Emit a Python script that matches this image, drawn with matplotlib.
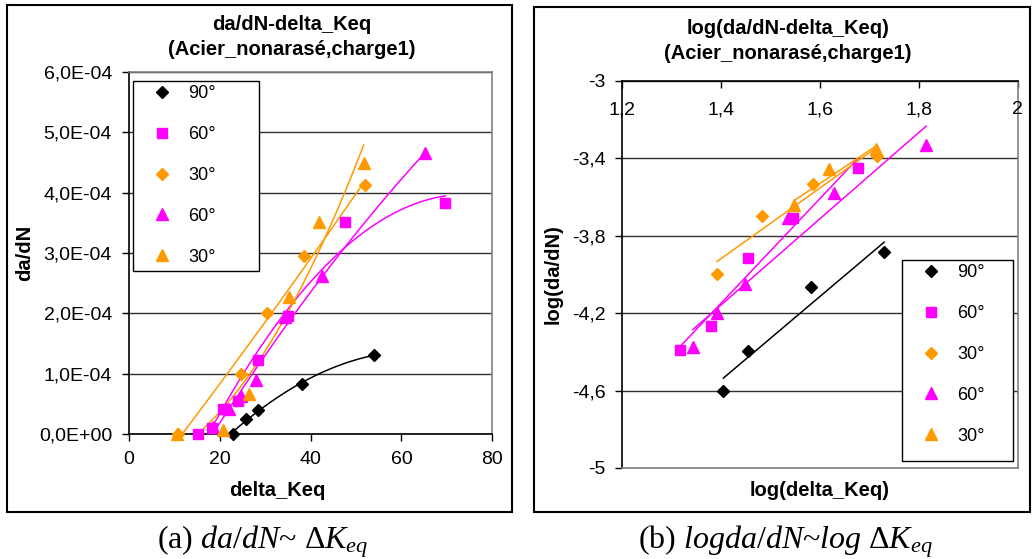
import numpy as np
from matplotlib import pyplot as plt
from matplotlib.patches import Rectangle
from matplotlib.ticker import FuncFormatter, MultipleLocator

plt.rcParams['font.family'] = ['Liberation Sans', 'DejaVu Sans']
plt.rcParams['mathtext.fontset'] = 'custom'
plt.rcParams['mathtext.rm'] = 'Liberation Serif'
plt.rcParams['mathtext.it'] = 'Liberation Serif:italic'

# ---- data, panel (a): da/dN vs delta_Keq
k90 = [22.9, 25.7, 28.5, 38.1, 54.0]
v90 = [0.0, 0.245e-4, 0.40e-4, 0.83e-4, 1.31e-4]
k60s = [15.3, 18.3, 20.8, 24.0, 28.5, 35.1, 47.5, 69.7]
v60s = [0.0, 0.10e-4, 0.41e-4, 0.54e-4, 1.22e-4, 1.95e-4, 3.52e-4, 3.83e-4]
k30d = [10.9, 24.7, 30.5, 38.5, 52.0]
v30d = [0.0, 1.0e-4, 2.0e-4, 2.95e-4, 4.12e-4]
k60t = [18.6, 22.0, 24.7, 28.1, 34.3, 42.6, 65.3]
v60t = [0.12e-4, 0.42e-4, 0.63e-4, 0.89e-4, 1.94e-4, 2.62e-4, 4.66e-4]
k30t = [10.7, 20.8, 26.5, 35.3, 41.9, 51.7]
v30t = [0.0, 0.07e-4, 0.67e-4, 2.27e-4, 3.52e-4, 4.50e-4]

# ---- data, panel (b): log values
lk90 = [1.405, 1.455, 1.582, 1.730]
lv90 = [-4.602, -4.396, -4.067, -3.886]
lk60s = [1.318, 1.380, 1.455, 1.545, 1.677]
lv60s = [-4.390, -4.267, -3.914, -3.711, -3.453]
lk30d = [1.392, 1.484, 1.586, 1.716]
lv30d = [-4.000, -3.699, -3.535, -3.389]
lk60t = [1.343, 1.392, 1.449, 1.535, 1.629, 1.815]
lv60t = [-4.377, -4.201, -4.050, -3.711, -3.582, -3.332]
lk30t = [1.548, 1.619, 1.714]
lv30t = [-3.642, -3.458, -3.354]

labels = ['90°', '60°', '30°', '60°', '30°']
colors = ['black', '#FF00FF', '#FF9900', '#FF00FF', '#FF9900']
markers = ['D', 's', 'D', '^', '^']
msizes = [6.5, 7.5, 6.5, 8.5, 8.5]

W, H = 1032, 559
fig = plt.figure(figsize=(W / 100, H / 100), dpi=100)


def fx(px):
    return px / W


def fy(py):
    return 1 - py / H


def frame(x0, y0, x1, y1):
    fig.add_artist(Rectangle((fx(x0), fy(y1)), fx(x1 - x0), (y1 - y0) / H,
                             transform=fig.transFigure, fill=False,
                             edgecolor='black', lw=1.5))


def comma(fmt):
    return FuncFormatter(lambda v, p: (fmt % v).replace('.', ','))


def legend_box(ax, handles, x0, y0, x1, y1):
    ax.add_patch(Rectangle((fx(x0), fy(y1)), fx(x1 - x0), (y1 - y0) / H,
                           transform=fig.transFigure, facecolor='white',
                           edgecolor='black', lw=1, zorder=4, clip_on=False))
    leg = ax.legend(handles, labels, loc='upper left', frameon=False,
                    bbox_to_anchor=(fx(x0 + 10), fy(y0 - 3)),
                    bbox_transform=fig.transFigure, borderaxespad=0,
                    handlelength=1.3, handletextpad=0.8, labelspacing=1.32,
                    fontsize=13)
    leg.set_zorder(5)


def style(ax, gray_sides):
    for s in ax.spines.values():
        s.set_color('black')
        s.set_linewidth(1.2)
    for s in gray_sides:
        ax.spines[s].set_color('#808080')
    ax.yaxis.grid(True, color='#303030', lw=1)
    ax.set_axisbelow(True)
    ax.tick_params(labelsize=14, length=5, width=1)


frame(7, 5, 512, 512)
frame(534, 7, 1030, 512)

# ---------------- panel (a)
ax1 = fig.add_axes([fx(128.7), fy(434), fx(363.6), 362 / H])
style(ax1, ['top', 'right'])
hs = []
for k, v, c, m, ms in zip([k90, k60s, k30d, k60t, k30t], [v90, v60s, v30d, v60t, v30t],
                          colors, markers, msizes):
    h, = ax1.plot(k, v, ls='none', marker=m, ms=ms, color=c, clip_on=False, zorder=3)
    hs.append(h)
    xs = np.linspace(min(k), max(k), 200)
    ax1.plot(xs, np.polyval(np.polyfit(k, v, 2), xs), color=c, lw=1.1, zorder=2)
ax1.set_xlim(0, 80)
ax1.set_ylim(0, 6e-4)
ax1.xaxis.set_major_locator(MultipleLocator(20))
ax1.yaxis.set_major_locator(MultipleLocator(1e-4))
ax1.yaxis.set_major_formatter(comma('%.1E'))
ax1.tick_params(axis='x', pad=7)
ax1.tick_params(axis='y', pad=7)
ax1.set_xlabel('delta_Keq', fontsize=14.5, fontweight='bold', va='center')
ax1.xaxis.set_label_coords((277 - 128.7) / 363.6, (434 - 490) / 362)
ax1.set_ylabel('da/dN', fontsize=14.5, fontweight='bold', va='center')
ax1.yaxis.set_label_coords((25 - 128.7) / 363.6, 0.5)
legend_box(ax1, hs, 133, 81, 259, 271)
fig.text(fx(292), fy(37), 'da/dN-delta_Keq\n(Acier_nonarasé,charge1)', ha='center',
         va='center', fontsize=14.5, fontweight='bold', linespacing=1.4)

# ---------------- panel (b)
ax2 = fig.add_axes([fx(622), fy(468), fx(395.7), 387.3 / H])
style(ax2, ['bottom', 'right'])
hs = []
for k, v, c, m, ms in zip([lk90, lk60s, lk30d, lk60t, lk30t],
                          [lv90, lv60s, lv30d, lv60t, lv30t],
                          colors, markers, msizes):
    h, = ax2.plot(k, v, ls='none', marker=m, ms=ms, color=c, zorder=3)
    hs.append(h)
    xs = np.array([min(k), max(k)])
    ax2.plot(xs, np.polyval(np.polyfit(k, v, 1), xs), color=c, lw=1.1, zorder=2)
ax2.set_xlim(1.2, 2.0)
ax2.set_ylim(-5, -3)
xt = np.arange(1.2, 2.01, 0.2)
ax2.set_xticks(xt)
ax2.set_yticks(np.arange(-5, -2.99, 0.4))
ax2.yaxis.set_major_formatter(comma('%g'))
ax2.tick_params(axis='x', top=True, bottom=False, labelbottom=False, direction='in')
ax2.tick_params(axis='y', pad=7)
for t in xt:
    ax2.text(t, 1 - 29 / 387.3, ('%g' % round(t, 1)).replace('.', ','),
             transform=ax2.get_xaxis_transform(), ha='center', va='center', fontsize=14)
ax2.set_xlabel('log(delta_Keq)', fontsize=14.5, fontweight='bold', va='center')
ax2.xaxis.set_label_coords(0.5, (468 - 490) / 387.3)
ax2.set_ylabel('log(da/dN)', fontsize=14.5, fontweight='bold', va='center')
ax2.yaxis.set_label_coords((553 - 622) / 395.7, 0.5)
legend_box(ax2, hs, 902, 260, 1013, 461)
fig.text(fx(788), fy(41), 'log(da/dN-delta_Keq)\n(Acier_nonarasé,charge1)', ha='center',
         va='center', fontsize=14.5, fontweight='bold', linespacing=1.4)

# ---------------- captions
fig.text(fx(263), fy(542), r'(a) $da/dN$~ $\Delta K_{eq}$', ha='center', va='center',
         fontsize=23, family='Liberation Serif')
fig.text(fx(785), fy(542), r'(b) $logda/dN$~$log\ \Delta K_{eq}$', ha='center',
         va='center', fontsize=23, family='Liberation Serif')

fig.savefig('out.png', dpi=100)
